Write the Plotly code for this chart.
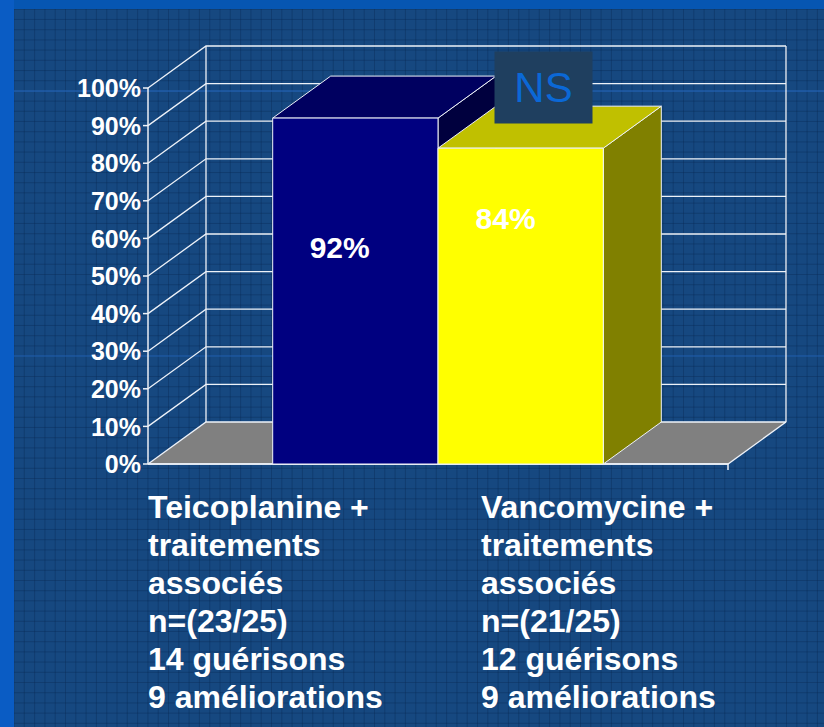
import plotly.graph_objects as go

# ---------------- data ----------------
series_names = ["Teicoplanine + traitements associés", "Vancomycine + traitements associés"]
values = [92, 84]
value_labels = ["92%", "84%"]
tick_values = [0, 10, 20, 30, 40, 50, 60, 70, 80, 90, 100]
tick_labels = ["0%", "10%", "20%", "30%", "40%", "50%", "60%", "70%", "80%", "90%", "100%"]
label_lines_1 = ["Teicoplanine +", "traitements", "associés", "n=(23/25)", "14 guérisons", "9 améliorations"]
label_lines_2 = ["Vancomycine +", "traitements", "associés", "n=(21/25)", "12 guérisons", "9 améliorations"]
significance = "NS"

# ---------------- style / geometry ----------------
W, H = 824, 727
X0PX, Y0PX = 148, 464          # pixel of origin (front-left floor corner)
XU, YU = 290.0, 3.76           # pixels per x-unit, pixels per percent
DX, DY = 58 / XU, 42 / YU      # depth offset
FLOOR_W = 2.0
BAR_W = 0.57
TEXT_NUDGE = -3 / YU           # text baseline correction (px -> %)
xr = [-X0PX / XU, (W - X0PX) / XU]
yr = [-(H - Y0PX) / YU, Y0PX / YU]

front_cols = ["#000080", "#ffff00"]
top_cols = ["#000060", "#c0c000"]
side_cols = ["#00003e", "#808000"]
LINE = "#eef2f8"
FONT = "Liberation Sans, Arial, sans-serif"

fig = go.Figure()

def poly(xs, ys, fill, lc=LINE, lw=1.0):
    fig.add_trace(go.Scatter(x=xs + [xs[0]], y=ys + [ys[0]], mode="lines", fill="toself",
                             fillcolor=fill, line=dict(color=lc, width=lw),
                             hoverinfo="skip", showlegend=False))

def seg(xs, ys, lc=LINE, lw=1.3):
    fig.add_trace(go.Scatter(x=xs, y=ys, mode="lines", line=dict(color=lc, width=lw),
                             hoverinfo="skip", showlegend=False))

# back-wall and side-wall gridlines
gx, gy = [], []
for v in tick_values[1:]:
    gx += [0, DX, DX + FLOOR_W, None]
    gy += [v, v + DY, v + DY, None]
seg(gx, gy)
# wall edges
seg([DX, DX, None, DX + FLOOR_W, DX + FLOOR_W], [DY, 100 + DY, None, DY, 100 + DY])

# floor
poly([0, DX, DX + FLOOR_W, FLOOR_W], [0, DY, DY, 0], "#808080", lw=1.3)

# front axis + ticks
tx, ty = [0, 0, None], [0, 100, None]
for v in tick_values:
    tx += [-5 / XU, 0, None]
    ty += [v, v, None]
tx += [FLOOR_W, FLOOR_W, None, 0, FLOOR_W]
ty += [0, -6 / YU, None, 0, 0]
seg(tx, ty, lw=1.5)

# tick labels
fig.add_trace(go.Scatter(x=[-7 / XU] * len(tick_values), y=[v + TEXT_NUDGE for v in tick_values],
                         mode="text",
                         text=["<b>%s</b>" % t for t in tick_labels], textposition="middle left",
                         textfont=dict(family=FONT, size=25, color="white"),
                         hoverinfo="skip", showlegend=False))

# bars (adjacent, centred on the floor)
start = FLOOR_W / 2 - BAR_W * len(values) / 2
for i, v in enumerate(values):
    x0 = start + i * BAR_W
    x1 = x0 + BAR_W
    poly([x1, x1 + DX, x1 + DX, x1], [0, DY, v + DY, v], side_cols[i])
    poly([x0, x1, x1 + DX, x0 + DX], [v, v, v + DY, v + DY], top_cols[i])
    poly([x0, x1, x1, x0], [0, 0, v, v], front_cols[i])

# value labels (manually placed text boxes in the original)
label_dx = [-0.054, -0.052]
label_drop = [34.3, 18.8]
for i, v in enumerate(values):
    cx = start + (i + 0.5) * BAR_W + label_dx[i]
    fig.add_trace(go.Scatter(x=[cx], y=[v - label_drop[i] + TEXT_NUDGE], mode="text",
                             text=["<b>%s</b>" % value_labels[i]], textposition="middle center",
                             textfont=dict(family=FONT, size=30, color="white"),
                             hoverinfo="skip", showlegend=False))

# category text blocks
anns = []
for col, lines in ((146, label_lines_1), (479, label_lines_2)):
    for k, ln in enumerate(lines):
        yc = 507 + k * 38.0
        anns.append(dict(x=col / W, y=1 - yc / H, xref="paper", yref="paper",
                         xanchor="left", yanchor="middle", showarrow=False,
                         text="<b>%s</b>" % ln,
                         font=dict(family=FONT, size=32, color="white")))
# NS box
anns.append(dict(x=543.5 / W, y=1 - 87.5 / H, xref="paper", yref="paper",
                 xanchor="center", yanchor="middle", showarrow=False,
                 text=significance, width=95, height=69, bgcolor="#1f3f5f",
                 font=dict(family=FONT, size=42, color="#0b68d6")))

# slide background decoration
bgpath = ""
x = 14.0
while x < W:
    bgpath += "M%.4f,0 L%.4f,1 " % (x / W, x / W)
    x += 10.3
y = 9.3
while y < H:
    bgpath += "M0,%.4f L1,%.4f " % (1 - y / H, 1 - y / H)
    y += 10.2
shapes = [
    dict(type="path", path=bgpath, xref="paper", yref="paper", layer="below",
         line=dict(color="rgba(10,40,80,0.35)", width=1)),
    dict(type="rect", x0=0, x1=1, y0=1 - 9 / H, y1=1, xref="paper", yref="paper",
         layer="below", line_width=0, fillcolor="#0656b2"),
    dict(type="rect", x0=0, x1=14 / W, y0=0, y1=1, xref="paper", yref="paper",
         layer="below", line_width=0, fillcolor="#0a5cc4"),
    dict(type="line", x0=14 / W, x1=1, y0=1 - 91 / H, y1=1 - 91 / H, xref="paper", yref="paper",
         layer="below", line=dict(color="rgba(40,110,200,0.5)", width=2)),
    dict(type="line", x0=14 / W, x1=1, y0=1 - 356 / H, y1=1 - 356 / H, xref="paper", yref="paper",
         layer="below", line=dict(color="rgba(40,110,200,0.4)", width=2)),
]

fig.update_layout(
    width=W, height=H, margin=dict(l=0, r=0, t=0, b=0),
    paper_bgcolor="#164880", plot_bgcolor="rgba(0,0,0,0)",
    xaxis=dict(range=xr, visible=False, fixedrange=True, domain=[0, 1]),
    yaxis=dict(range=yr, visible=False, fixedrange=True, domain=[0, 1]),
    annotations=anns, shapes=shapes, showlegend=False,
)

fig.write_html("out.html", config={"displayModeBar": False},
               post_script="document.body.style.margin='0';document.body.style.overflow='hidden';")
